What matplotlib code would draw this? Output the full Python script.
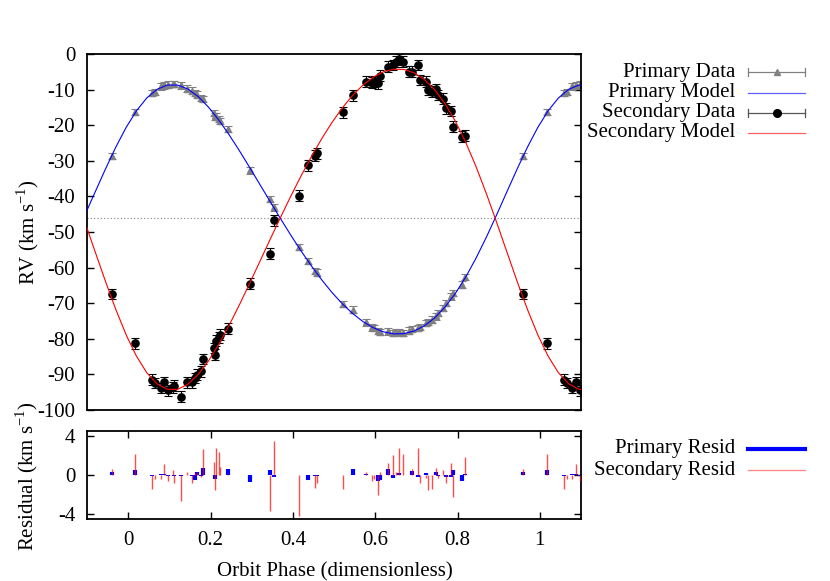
import numpy as np
import matplotlib
matplotlib.use('Agg')
import matplotlib.pyplot as plt
from matplotlib.lines import Line2D

plt.rcParams['font.family'] = ['Liberation Serif', 'DejaVu Serif']
plt.rcParams['mathtext.fontset'] = 'custom'
plt.rcParams['mathtext.rm'] = 'Liberation Serif'
plt.rcParams['axes.unicode_minus'] = False

# ---------------- data ----------------
PHASE = [0.0165, 0.059, 0.065, 0.079, 0.087, 0.097, 0.110, 0.112, 0.129, 0.143,
         0.156, 0.162, 0.168, 0.176, 0.182, 0.208, 0.212, 0.214, 0.220, 0.224,
         0.242, 0.297, 0.345, 0.354, 0.415, 0.436, 0.455, 0.458, 0.523, 0.545,
         0.578, 0.592, 0.596, 0.608, 0.612, 0.632, 0.643, 0.650, 0.658, 0.667,
         0.681, 0.690, 0.703, 0.708, 0.724, 0.729, 0.737, 0.748, 0.753, 0.764,
         0.771, 0.784, 0.790, 0.810, 0.818, 0.960]

PRIMARY_RV = [-16.3, -11.0, -10.6, -9.1, -8.8, -8.6, -8.4, -8.5, -8.8, -9.7,
              -10.3, -11.0, -11.4, -12.4, -12.7, -16.6, -17.5, -17.6, -18.3, -18.9,
              -21.0, -32.7, -40.7, -43.1, -54.2, -58.2, -60.9, -61.4, -70.2, -71.8,
              -75.4, -76.8, -77.0, -77.8, -78.1, -77.9, -78.3, -78.2, -78.2, -78.3,
              -77.7, -77.3, -77.0, -76.7, -75.6, -75.2, -74.6, -73.7, -72.8, -71.3,
              -69.9, -68.1, -67.2, -64.8, -62.7, -28.7]

SECONDARY_RV = [-81.3, -91.5, -92.4, -93.8, -92.1, -94.5, -93.6, -93.2, -96.3, -92.2,
                -92.2, -91.0, -90.1, -89.1, -85.7, -82.6, -84.5, -80.5, -79.6, -78.8,
                -77.2, -64.5, -56.1, -46.7, -39.8, -31.3, -28.6, -27.9, -16.4, -11.6,
                -7.8, -8.1, -7.8, -8.2, -6.1, -3.6, -3.1, -2.2, -1.5, -2.2,
                -5.0, -5.0, -3.1, -7.3, -7.8, -10.1, -10.6, -9.9, -11.5, -12.5,
                -15.3, -16.0, -20.4, -23.2, -22.9, -67.4]

PRIMARY_RES = [0.48, -0.15, 0.05, 0.1, 0.1, -0.1, -0.05, -0.1, -0.1, -0.05,
               -0.1, -0.5, 0.35, -0.15, 0.75, -0.05, -0.4, 0.03, -0.05, 0.02,
               0.6, -0.7, 0.5, -0.2, 0.05, -0.5, -0.1, -0.15, 0.05, 0.6,
               0.15, -0.05, 0.03, -0.6, -0.55, 0.6, -0.3, 0.05, 0.25, 0.03,
               -0.05, 0.4, -0.25, -0.05, 0.2, 0.05, -0.05, 0.35, -0.1, 0.05,
               -0.25, -0.25, 0.5, -0.6, 0.1, 0.3]

SECONDARY_RES = [2.1, -1.4, -0.4, -0.45, 1.1, -0.6, 0.5, -0.8, -2.7, 0.35,
                 -0.85, 0.2, 0.3, -0.2, 2.65, 1.35, -1.5, 2.75, 2.4, 0.85,
                 0.1, 0.05, -3.7, 3.5, -4.2, 0.05, -1.3, -0.8, -1.4, 0.05,
                 0.35, -0.6, -0.4, -2.0, 0.3, 1.2, 2.05, 0.3, 2.8, 2.1,
                 -0.05, 0.6, 2.8, -0.8, -0.3, -1.5, -1.4, 0.75, -0.3, 0.5,
                 -0.8, 1.2, -2.2, 0.0, 1.85, 0.65]

PRIMARY_ERR = 0.9
SECONDARY_ERR = 1.5
GAMMA = -46.1

MODEL_PHASE = [-0.105, -0.080, -0.055, -0.030, -0.005, 0.020, 0.045, 0.070, 0.095, 0.120,
               0.145, 0.170, 0.195, 0.220, 0.245, 0.270, 0.295, 0.320, 0.345, 0.370,
               0.395, 0.420, 0.445, 0.470, 0.495, 0.520, 0.545, 0.570, 0.595, 0.620,
               0.645, 0.670, 0.695, 0.720, 0.745, 0.770, 0.795, 0.820, 0.845, 0.870,
               0.895, 0.920, 0.945, 0.970, 0.995, 1.020, 1.045, 1.070, 1.095, 1.120]

PRIMARY_MODEL = [-45.20, -38.70, -32.27, -26.15,
                 -20.64, -15.99, -12.37, -9.93, -8.72, -8.72, -9.84, -11.95, -14.91, -18.53,
                 -22.65, -27.13, -31.84, -36.65, -41.48, -46.24, -50.88, -55.32, -59.51, -63.41,
                 -66.98, -70.14, -72.87, -75.13, -76.86, -78.04, -78.62, -78.55, -77.80, -76.31,
                 -74.07, -71.04, -67.22, -62.64, -57.35, -51.48, -45.20, -38.70, -32.27, -26.15,
                 -20.64, -15.99, -12.37, -9.93, -8.72, -8.72]

SECONDARY_MODEL = [-47.26, -55.62, -63.90, -71.77,
                   -78.87, -84.85, -89.50, -92.64, -94.20, -94.20, -92.76, -90.04, -86.24, -81.58,
                   -76.27, -70.50, -64.45, -58.26, -52.04, -45.92, -39.95, -34.24, -28.84, -23.82,
                   -19.24, -15.17, -11.65, -8.75, -6.52, -5.00, -4.26, -4.35, -5.32, -7.22,
                   -10.11, -14.01, -18.93, -24.82, -31.62, -39.17, -47.26, -55.62, -63.90, -71.77,
                   -78.87, -84.85, -89.50, -92.64, -94.20, -94.20]

RV_TICKS = list(range(-100, 1, 10))
RES_TICKS = [-4, 0, 4]
PHASE_TICKS = [0, 0.2, 0.4, 0.6, 0.8, 1]
PHASE_TICKLABELS = ['0', '0.2', '0.4', '0.6', '0.8', '1']
XMIN, XMAX = -0.1, 1.1

# --------- wrap phases into displayed range ---------
ph = np.array(PHASE)
lo = (ph - 1) >= XMIN
hi = (ph + 1) <= XMAX
def wrap(v):
    v = np.array(v)
    return np.concatenate([v, v[lo], v[hi]])
x_all = np.concatenate([ph, ph[lo] - 1, ph[hi] + 1])
p_rv, s_rv = wrap(PRIMARY_RV), wrap(SECONDARY_RV)
p_res, s_res = wrap(PRIMARY_RES), wrap(SECONDARY_RES)

# ---------------- figure ----------------
W, H = 830, 581
fig = plt.figure(figsize=(W / 100, H / 100), dpi=100)
def fx(x): return x / W
def fy(y): return 1 - y / H

ax = fig.add_axes([fx(87), fy(410), (581 - 87) / W, (410 - 54) / H])
axr = fig.add_axes([fx(87), fy(519), (581 - 87) / W, (519 - 431) / H])

FS = 15
ax.axhline(GAMMA, color='gray', ls=(0, (1, 2)), lw=0.8, zorder=1)
ax.errorbar(x_all, p_rv, yerr=PRIMARY_ERR, fmt='^', color='gray', ms=4.5,
            ecolor='gray', elinewidth=0.8, capsize=2.6, capthick=0.8, zorder=2)
ax.plot(MODEL_PHASE, PRIMARY_MODEL, color='blue', lw=0.8, zorder=3)
ax.errorbar(x_all, s_rv, yerr=SECONDARY_ERR, fmt='o', color='black', ms=5.2,
            ecolor='black', elinewidth=0.8, capsize=3, capthick=0.8, zorder=4)
ax.plot(MODEL_PHASE, SECONDARY_MODEL, color='red', lw=0.8, zorder=5)

ax.set_xlim(XMIN, XMAX)
ax.set_ylim(-100, 0)
ax.set_yticks(RV_TICKS)
ax.set_xticks([])
ax.tick_params(axis='y', direction='in', length=4.8, width=1, left=True, right=True,
               labelsize=FS, pad=8.5)
for s in ax.spines.values():
    s.set_linewidth(1.3)

axr.vlines(x_all, 0, p_res, colors='blue', lw=3, zorder=2)
axr.vlines(x_all, 0, s_res, colors='red', lw=1, alpha=0.7, zorder=3)
axr.set_xlim(XMIN, XMAX)
axr.set_ylim(-4.5, 4.5)
axr.set_yticks(RES_TICKS)
axr.set_xticks(PHASE_TICKS)
axr.set_xticklabels(PHASE_TICKLABELS)
axr.tick_params(axis='both', direction='in', length=4.8, width=1, left=True, right=True,
                top=True, bottom=True, labelsize=FS, pad=8.5)
for s in axr.spines.values():
    s.set_linewidth(1.3)

fig.text(fx(335), fy(572), 'Orbit Phase (dimensionless)', ha='center', va='center', fontsize=FS)
fig.text(fx(28), fy(232), r'RV (km s$^{\mathregular{-1}}$)', rotation=90,
         ha='center', va='center', fontsize=FS)
fig.text(fx(27), fy(476), r'Residual (km s$^{\mathregular{-1}}$)', rotation=90,
         ha='center', va='center', fontsize=FS)

# ---------------- legends ----------------
LX0, LX1, TX = 748, 805, 735
def leg_text(y, s):
    fig.text(fx(TX), fy(y), s, ha='right', va='center', fontsize=FS)

def errbar_sample(y, lc, mk, mc, ms):
    fig.add_artist(Line2D([fx(LX0), fx(LX1)], [fy(y), fy(y)], color=lc, lw=0.9))
    for xx in (LX0, LX1):
        fig.add_artist(Line2D([fx(xx), fx(xx)], [fy(y - 4), fy(y + 4)], color=lc, lw=0.9))
    fig.add_artist(Line2D([fx((LX0 + LX1) / 2)], [fy(y)], marker=mk, color=mc, ms=ms, lw=0))

leg_text(72, 'Primary Data')
errbar_sample(72, 'gray', '^', 'gray', 4.5)
leg_text(92.5, 'Primary Model')
fig.add_artist(Line2D([fx(LX0), fx(LX1)], [fy(92.5), fy(92.5)], color='#6060ff', lw=0.9))
leg_text(113, 'Secondary Data')
errbar_sample(113, '#555555', 'o', 'black', 5.5)
leg_text(133, 'Secondary Model')
fig.add_artist(Line2D([fx(LX0), fx(LX1)], [fy(133), fy(133)], color='#ff6060', lw=0.9))

leg_text(449, 'Primary Resid')
fig.add_artist(Line2D([fx(LX0), fx(LX1)], [fy(449), fy(449)], color='blue', lw=3))
leg_text(470, 'Secondary Resid')
fig.add_artist(Line2D([fx(LX0), fx(LX1)], [fy(470), fy(470)], color='red', lw=1, alpha=0.45))

fig.savefig('out.png', dpi=100)
